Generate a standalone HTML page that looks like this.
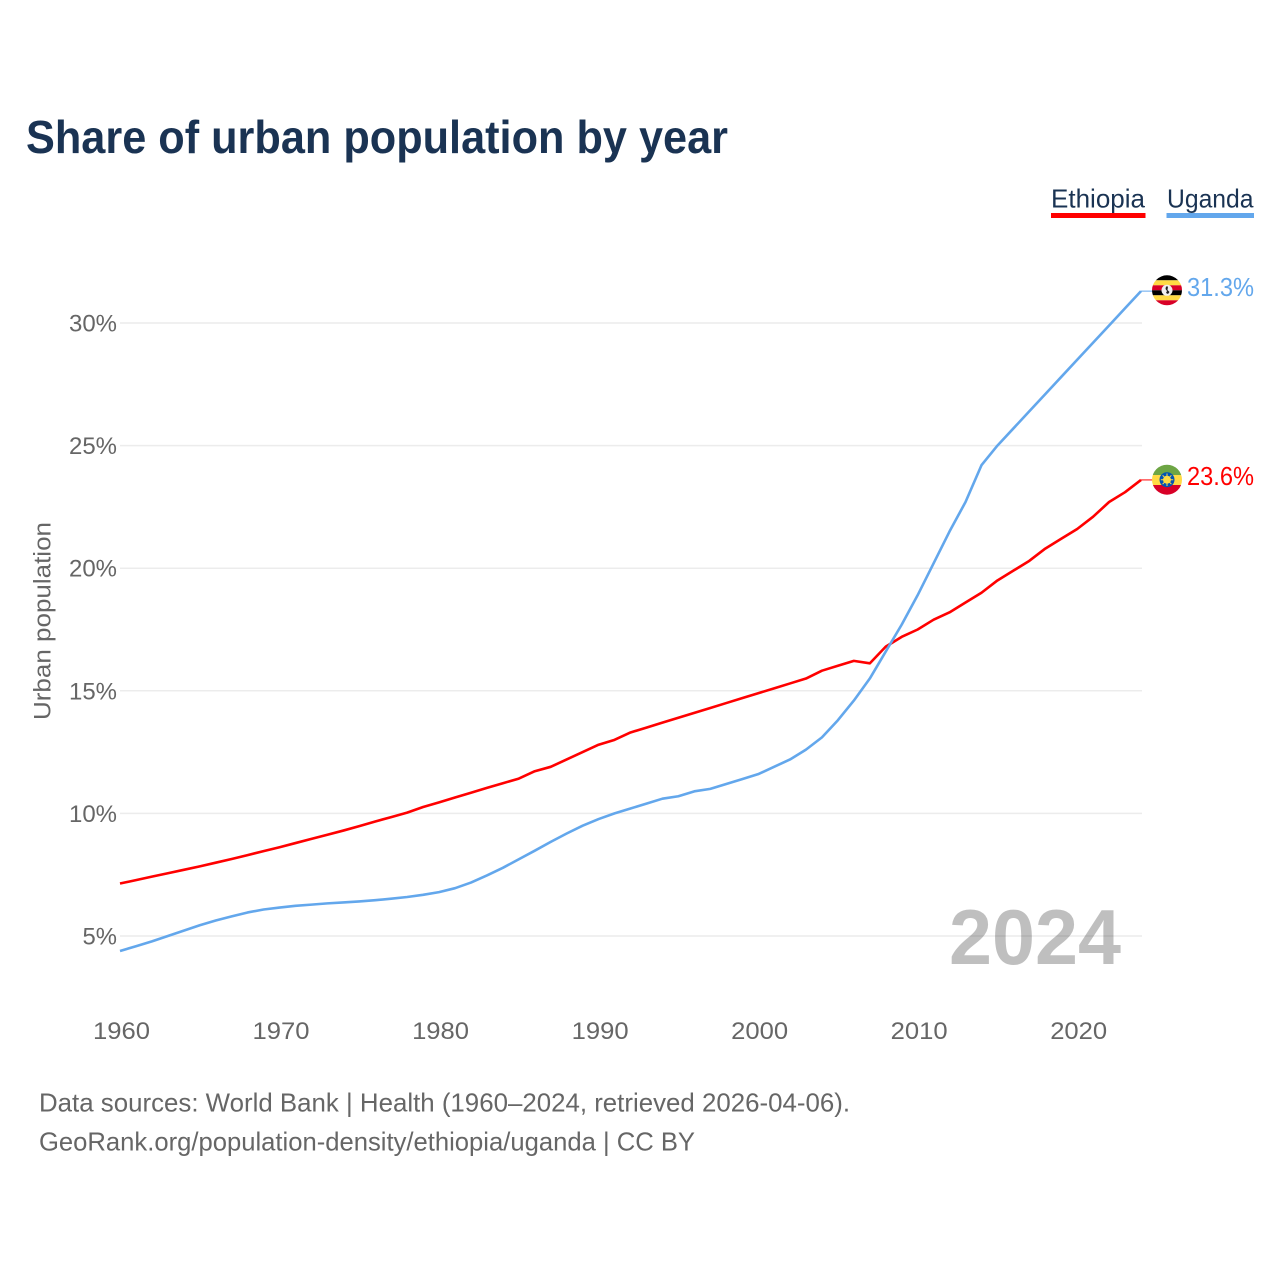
<!DOCTYPE html>
<html lang="en">
<head>
<meta charset="utf-8">
<title>Share of urban population by year</title>
<style>
html,body{margin:0;padding:0;background:#fff;}
svg{display:block;font-family:"Liberation Sans",sans-serif;}
</style>
</head>
<body>
<svg id="chart" xmlns="http://www.w3.org/2000/svg" width="1280" height="1280" viewBox="0 0 1280 1280">
  <defs>
    <clipPath id="clip-ug"><circle cx="1167" cy="290.3" r="15"/></clipPath>
    <clipPath id="clip-et"><circle cx="1167" cy="479.7" r="15"/></clipPath>
  </defs>
  <rect x="0" y="0" width="1280" height="1280" fill="#fff"/>
  <text x="26" y="153" font-size="46" font-weight="700" fill="#1a3353" textLength="702" lengthAdjust="spacingAndGlyphs">Share of urban population by year</text>

  <g>
    <g>
      <text x="1051" y="207.5" font-size="26" fill="#1a3353" textLength="94" lengthAdjust="spacingAndGlyphs">Ethiopia</text>
      <rect x="1051" y="213" width="94.5" height="5" fill="#ff0000"/>
    </g>
    <g>
      <text x="1167" y="207.5" font-size="26" fill="#1a3353" textLength="86.5" lengthAdjust="spacingAndGlyphs">Uganda</text>
      <rect x="1166.5" y="213" width="87.5" height="5" fill="#63a7ec"/>
    </g>
  </g>

  <g id="grid"></g>
  <g id="yticks"></g>
  <g id="xticks"></g>
  <text transform="translate(50.5,720) rotate(-90)" x="0" y="0" font-size="24.5" fill="#666" textLength="198" lengthAdjust="spacingAndGlyphs">Urban population</text>

  <text x="949" y="964" font-size="78" font-weight="700" fill="#000" fill-opacity="0.25" textLength="172" lengthAdjust="spacingAndGlyphs">2024</text>

  <g id="series"></g>

  <g clip-path="url(#clip-ug)">
    <rect x="1150" y="275" width="34" height="5.3" fill="#000"/>
    <rect x="1150" y="280.3" width="34" height="5" fill="#ffda44"/>
    <rect x="1150" y="285.3" width="34" height="5" fill="#d80027"/>
    <rect x="1150" y="290.3" width="34" height="5" fill="#000"/>
    <rect x="1150" y="295.3" width="34" height="5" fill="#ffda44"/>
    <rect x="1150" y="300.3" width="34" height="6" fill="#d80027"/>
    <circle cx="1167" cy="290.3" r="5.5" fill="#f0f0f0"/>
    <path d="M1166 286.5 L1168 286.5 L1167.5 290 L1169.5 292 L1168 294 L1166 293 L1167 291 L1165.5 289 Z" fill="#222"/>
  </g>
  <g clip-path="url(#clip-et)">
    <rect x="1150" y="464" width="34" height="11" fill="#6da544"/>
    <rect x="1150" y="475" width="34" height="10" fill="#ffda44"/>
    <rect x="1150" y="485" width="34" height="11" fill="#d80027"/>
    <circle cx="1167" cy="479.7" r="7.5" fill="#0052b4"/>
    <circle cx="1167" cy="479.7" r="4" fill="#ffda44"/>
    <path d="M1167 473.5 V486 M1160.8 479.7 H1173.2 M1162.6 475.3 L1171.4 484.1 M1171.4 475.3 L1162.6 484.1" stroke="#ffda44" stroke-width="1"/>
  </g>

  <text x="39" y="1111.5" font-size="26" fill="#666" textLength="811" lengthAdjust="spacingAndGlyphs">Data sources: World Bank | Health (1960–2024, retrieved 2026-04-06).</text>
  <text x="39" y="1150.5" font-size="26" fill="#666" textLength="656" lengthAdjust="spacingAndGlyphs">GeoRank.org/population-density/ethiopia/uganda | CC BY</text>
</svg>
<script>
const years = [1960,1961,1962,1963,1964,1965,1966,1967,1968,1969,1970,1971,1972,1973,1974,1975,1976,1977,1978,1979,1980,1981,1982,1983,1984,1985,1986,1987,1988,1989,1990,1991,1992,1993,1994,1995,1996,1997,1998,1999,2000,2001,2002,2003,2004,2005,2006,2007,2008,2009,2010,2011,2012,2013,2014,2015,2016,2017,2018,2019,2020,2021,2022,2023,2024];
const ethiopiaValues = [7.14,7.28,7.42,7.56,7.70,7.84,7.99,8.14,8.30,8.46,8.62,8.79,8.96,9.13,9.30,9.48,9.67,9.85,10.03,10.26,10.45,10.65,10.84,11.04,11.23,11.42,11.72,11.90,12.20,12.50,12.80,13.00,13.30,13.50,13.70,13.90,14.10,14.30,14.50,14.70,14.90,15.10,15.30,15.50,15.82,16.02,16.22,16.12,16.80,17.20,17.50,17.90,18.20,18.60,19.00,19.50,19.90,20.30,20.80,21.20,21.60,22.10,22.70,23.10,23.60];
const ugandaValues = [4.39,4.58,4.78,5.00,5.22,5.44,5.63,5.80,5.96,6.08,6.16,6.23,6.28,6.33,6.37,6.41,6.46,6.52,6.59,6.68,6.79,6.95,7.18,7.47,7.78,8.13,8.48,8.84,9.18,9.50,9.77,10.00,10.20,10.40,10.60,10.70,10.90,11.00,11.20,11.40,11.60,11.90,12.20,12.60,13.10,13.80,14.60,15.50,16.60,17.70,18.90,20.20,21.50,22.70,24.20,25.00,25.70,26.40,27.10,27.80,28.50,29.20,29.90,30.60,31.30];
const yTickValues = [5,10,15,20,25,30];
const xTickValues = [1960,1970,1980,1990,2000,2010,2020];

const SVGNS = 'http://www.w3.org/2000/svg';
const xScale = year => 120 + (year - 1960) * (1141 - 120) / 64;
const yScale = value => 936 - (value - 5) * (936 - 323) / 25;

function make(tag, parent, attrs) {
  const el = document.createElementNS(SVGNS, tag);
  Object.keys(attrs).forEach(k => el.setAttribute(k, attrs[k]));
  parent.appendChild(el);
  return el;
}

const gridGroup = document.getElementById('grid');
const yTickGroup = document.getElementById('yticks');
yTickValues.forEach(v => {
  const line = make('line', gridGroup, {x1: 120, x2: 1142, y1: yScale(v), y2: yScale(v), stroke: '#ececec', 'stroke-width': 1.5});
  
  
  const label = make('text', yTickGroup, {x: 117, y: yScale(v) + 8.5, 'font-size': 24.5, fill: '#666', 'text-anchor': 'end', textLength: v < 10 ? 34.5 : 48, lengthAdjust: 'spacingAndGlyphs'});
  label.textContent = v + '%';
  
  
});

const xTickGroup = document.getElementById('xticks');
xTickValues.forEach(y => {
  const label = make('text', xTickGroup, {x: xScale(y) + 1.5, y: 1039, 'font-size': 24.5, fill: '#666', 'text-anchor': 'middle', textLength: 57, lengthAdjust: 'spacingAndGlyphs'});
  label.textContent = y;
  
  
});

const seriesGroup = document.getElementById('series');
function drawSeries(values, color, name) {
  const d = values.map((v, i) => (i ? 'L' : 'M') + xScale(years[i]).toFixed(2) + ' ' + yScale(v).toFixed(2)).join(' ');
  const path = make('path', seriesGroup, {d: d, fill: 'none', stroke: color, 'stroke-width': 2.6, 'stroke-linejoin': 'round'});
  
  
  const lastValue = values[values.length - 1];
  const lastY = yScale(lastValue);
  const leader = make('line', seriesGroup, {x1: 1141, x2: 1153, y1: lastY, y2: lastY, stroke: color, 'stroke-width': 1});
  
  
  const label = make('text', seriesGroup, {x: 1187, y: lastY + 6.5 - 1.5, 'font-size': 26, fill: color, textLength: 67, lengthAdjust: 'spacingAndGlyphs'});
  label.textContent = lastValue.toFixed(1) + '%';
  
  
}
drawSeries(ethiopiaValues, '#ff0000', 'ethiopia');
drawSeries(ugandaValues, '#63a7ec', 'uganda');
</script>
</body>
</html>
